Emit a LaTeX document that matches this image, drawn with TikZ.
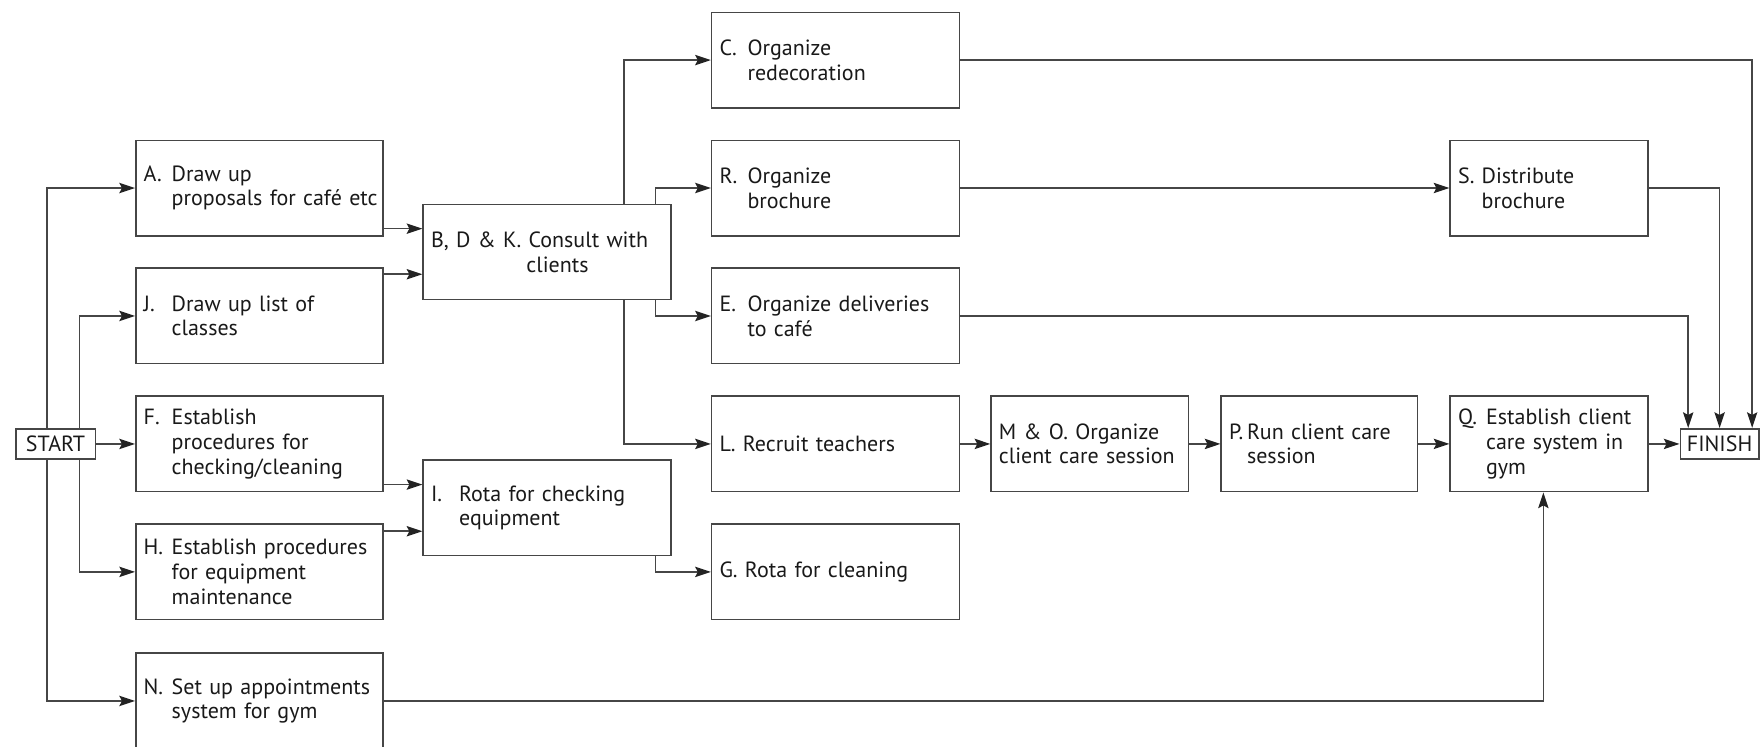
\documentclass[tikz,border=0pt]{standalone}
\usepackage{fontspec}
\setmainfont{PT Sans}[WordSpace=0.8]
\usetikzlibrary{arrows.meta}
\definecolor{linec}{RGB}{70,70,70}
\definecolor{tipc}{RGB}{35,35,35}
\definecolor{txtc}{RGB}{25,25,25}
\newcommand{\lb}[1]{\makebox[12.5pt][l]{#1}}
\newcommand{\ind}{\hspace*{12.5pt}}
\tikzset{
  box/.style={draw=linec, line width=0.7pt, rectangle, inner xsep=3.5pt, inner ysep=0pt,
    text width=#1, align=left, minimum height=42.5pt, text=txtc,
    font=\fontsize{9.8pt}{11pt}\selectfont},
  box/.default=103pt,
  term/.style={draw=linec, line width=0.7pt, rectangle, inner sep=0pt, minimum height=13.5pt,
    text=txtc, font=\fontsize{9.8pt}{11pt}\selectfont},
  arr/.style={draw=linec, line width=0.7pt,
    -{Stealth[length=7pt,width=4.6pt,inset=1.2pt,color=tipc]}},
}
\begin{document}
\begin{tikzpicture}[x=0.5pt, y=-0.5pt]
\useasboundingbox (0,0) rectangle (1568,665.5);
% terminals
\node[term, minimum width=35.5pt] (START) at (49.5,395.5) {START};
\node[term, minimum width=35pt] (FINISH) at (1532,395.5) {FINISH};
% column 1
\node[box] (A) at (231,167.5) {\lb{A.}Draw up\\\ind\mbox{proposals for café etc}};
\node[box] (J) at (231,281.5) {\lb{J.}Draw up list of\\\ind classes};
\node[box] (F) at (231,395.5) {\lb{F.}Establish\\\ind procedures for\\\ind checking/cleaning};
\node[box] (H) at (231,509.5) {\lb{H.}Establish procedures\\\ind for equipment\\\ind maintenance};
\node[box] (N) at (231,624.5) {\lb{N.}Set up appointments\\\ind system for gym};
% column 2
\node[box=103.5pt] (B) at (487.5,224.5) {\mbox{B, D \& K. Consult with}\\\hspace*{42.5pt}clients};
\node[box=103.5pt] (I) at (487.5,452.5) {\lb{I.}Rota for checking\\\ind equipment};
% column 3
\node[box=103.5pt] (C) at (744.5,53.5) {\lb{C.}Organize\\\ind redecoration};
\node[box=103.5pt] (R) at (744.5,167.5) {\lb{R.}Organize\\\ind brochure};
\node[box=103.5pt] (E) at (744.5,281.5) {\lb{E.}Organize deliveries\\\ind to café};
\node[box=103.5pt] (L) at (744.5,395.5) {L. Recruit teachers};
\node[box=103.5pt] (G) at (744.5,509.5) {G. Rota for cleaning};
% later boxes
\node[box=81pt] (MO) at (971,395.5) {M \& O. Organize\\client care session};
\node[box=80.5pt] (P) at (1175.5,395.5) {\makebox[8pt][l]{P.}Run client care\\\hspace*{8pt}session};
\node[box=81pt] (Q) at (1380,395.5) {\lb{Q.}Establish client\\\ind care system in\\\ind gym};
\node[box=81pt] (S) at (1380,167.5) {\makebox[10.5pt][l]{S.}Distribute\\\hspace*{10.5pt}brochure};
% connectors from START
\draw[arr] (START.east) -- (F.west);
\draw[arr] ([xshift=-3.75pt]START.north) |- (A.west);
\draw[arr] ([xshift=10.75pt]START.north) |- (J.west);
\draw[arr] ([xshift=10.75pt]START.south) |- (H.west);
\draw[arr] ([xshift=-3.75pt]START.south) |- (N.west);
% into B and I
\draw[arr] ([yshift=3.5pt]A.south east) -- ([yshift=3.5pt]A.south east -| B.west);
\draw[arr] ([yshift=-3pt]J.north east) -- ([yshift=-3pt]J.north east -| B.west);
\draw[arr] ([yshift=3.5pt]F.south east) -- ([yshift=3.5pt]F.south east -| I.west);
\draw[arr] ([yshift=-3.5pt]H.north east) -- ([yshift=-3.5pt]H.north east -| I.west);
% out of B and I
\draw[arr] ([xshift=34.25pt]B.north) |- (C.west);
\draw[arr] ([xshift=48.25pt]B.north) |- (R.west);
\draw[arr] ([xshift=48.25pt]B.south) |- (E.west);
\draw[arr] ([xshift=34.25pt]B.south) |- (L.west);
\draw[arr] ([xshift=48.25pt]I.south) |- (G.west);
% chain
\draw[arr] (R.east) -- (S.west);
\draw[arr] (L.east) -- (MO.west);
\draw[arr] (MO.east) -- (P.west);
\draw[arr] (P.east) -- (Q.west);
\draw[arr] (Q.east) -- (FINISH.west);
\draw[arr] (N.east) -| ([xshift=-2.5pt]Q.south);
% into FINISH
\draw[arr] (C.east) -| ([xshift=14.5pt]FINISH.north);
\draw[arr] (S.east) -| (FINISH.north);
\draw[arr] (E.east) -| ([xshift=-14pt]FINISH.north);
\end{tikzpicture}
\end{document}
